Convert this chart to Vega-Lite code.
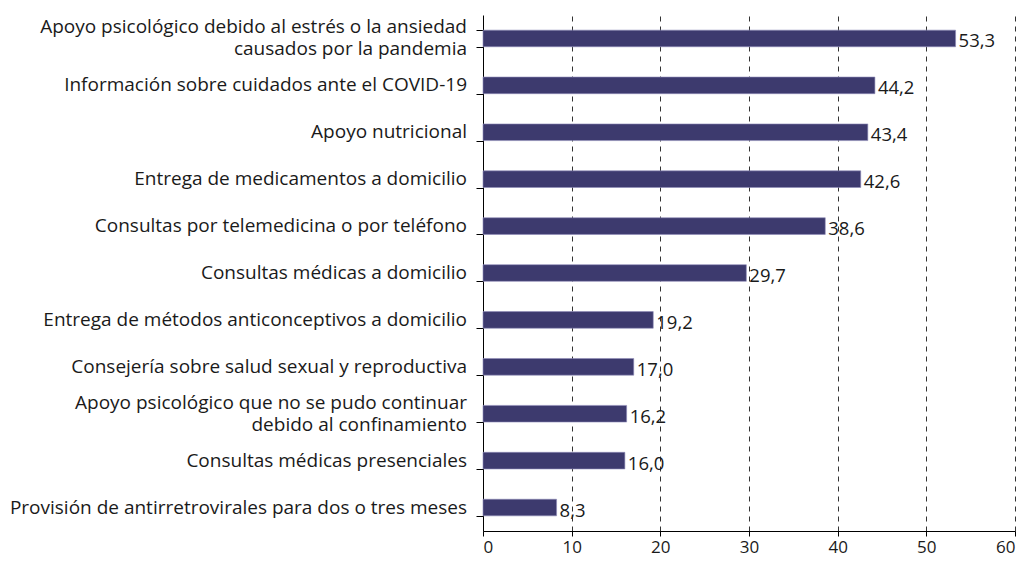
{
  "$schema": "https://vega.github.io/schema/vega-lite/v6.json",
  "autosize": {"type": "none"},
  "padding": {"left": 483, "top": 15, "right": 8, "bottom": 30},
  "width": 532,
  "height": 516,
  "background": "white",
  "data": {
    "values": [
      {"servicio": "Apoyo psicológico debido al estrés o la ansiedad|causados por la pandemia", "valor": 53.3},
      {"servicio": "Información sobre cuidados ante el COVID-19", "valor": 44.2},
      {"servicio": "Apoyo nutricional", "valor": 43.4},
      {"servicio": "Entrega de medicamentos a domicilio", "valor": 42.6},
      {"servicio": "Consultas por telemedicina o por teléfono", "valor": 38.6},
      {"servicio": "Consultas médicas a domicilio", "valor": 29.7},
      {"servicio": "Entrega de métodos anticonceptivos a domicilio", "valor": 19.2},
      {"servicio": "Consejería sobre salud sexual y reproductiva", "valor": 17.0},
      {"servicio": "Apoyo psicológico que no se pudo continuar|debido al confinamiento", "valor": 16.2},
      {"servicio": "Consultas médicas presenciales", "valor": 16.0},
      {"servicio": "Provisión de antirretrovirales para dos o tres meses", "valor": 8.3}
    ]
  },
  "encoding": {
    "y": {
      "field": "servicio",
      "type": "nominal",
      "sort": null,
      "scale": {"paddingInner": 0.645, "paddingOuter": 0.3225},
      "axis": {
        "title": null,
        "labels": false,
        "tickBand": "extent",
        "tickSize": 7,
        "tickColor": "#000",
        "domainColor": "#000",
        "grid": false
      }
    },
    "x": {
      "field": "valor",
      "type": "quantitative",
      "scale": {"domain": [0, 60], "nice": false},
      "axis": {
        "title": null,
        "values": [0, 10, 20, 30, 40, 50, 60],
        "format": "d",
        "labelFont": "Open Sans",
        "labelFontSize": 17,
        "labelColor": "#1a1a1a",
        "labelPadding": 3,
        "tickSize": 5,
        "tickColor": "#000",
        "domainColor": "#000",
        "grid": true,
        "gridColor": "#333",
        "gridDash": [5, 5],
        "gridWidth": 1
      }
    }
  },
  "layer": [
    {
      "mark": {"type": "bar", "color": "#3d3a6e", "stroke": "#8f8cb8", "strokeWidth": 0.6}
    },
    {
      "mark": {"type": "text", "align": "left", "baseline": "middle", "dx": 3, "dy": 3, "font": "Open Sans", "fontSize": 18.5, "color": "#1a1a1a"},
      "encoding": {
        "text": {"field": "valor", "type": "quantitative", "format": ".1f"}
      }
    },
    {
      "transform": [{"filter": "indexof(datum.servicio, '|') < 0"}],
      "mark": {"type": "text", "align": "right", "baseline": "middle", "dx": -16, "font": "Open Sans", "fontSize": 19, "color": "#1a1a1a"},
      "encoding": {
        "x": {"datum": 0},
        "text": {"field": "servicio"}
      }
    },
    {
      "transform": [{"filter": "indexof(datum.servicio, '|') >= 0"}],
      "mark": {"type": "text", "align": "right", "baseline": "middle", "dx": -16, "dy": -11, "lineBreak": "|", "lineHeight": 22, "font": "Open Sans", "fontSize": 19, "color": "#1a1a1a"},
      "encoding": {
        "x": {"datum": 0},
        "text": {"field": "servicio"}
      }
    }
  ],
  "config": {
    "view": {"stroke": null},
    "locale": {"number": {"decimal": ",", "thousands": ".", "grouping": [3], "currency": ["", " €"]}}
  }
}
